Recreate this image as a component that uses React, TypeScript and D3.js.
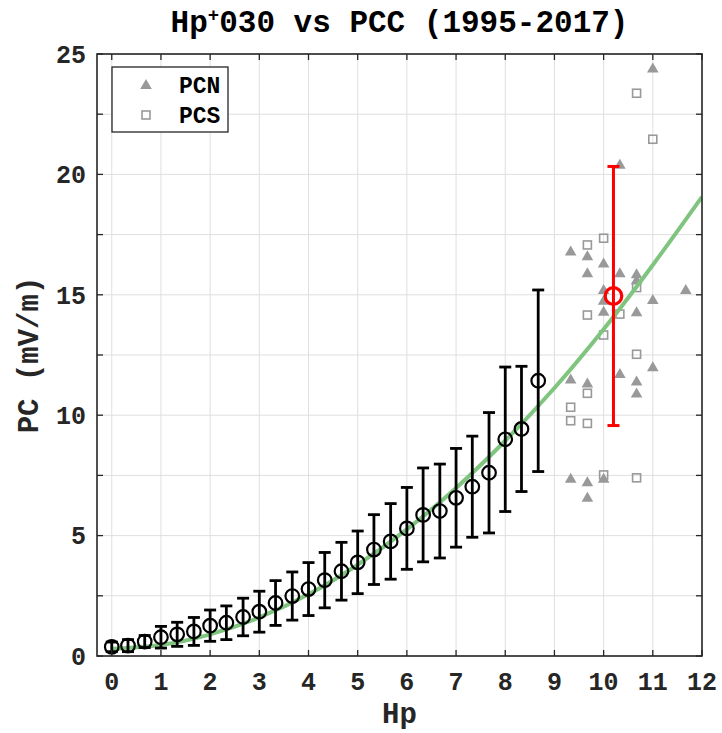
import React from "react";
import * as d3 from "d3";

// Binned means (black circles with error bars)
const binHp = [0, 0.33, 0.67, 1, 1.33, 1.67, 2, 2.33, 2.67, 3, 3.33, 3.67, 4, 4.33, 4.67, 5, 5.33, 5.67, 6, 6.33, 6.67, 7, 7.33, 7.67, 8, 8.33, 8.67];
const binPC = [0.38, 0.43, 0.6, 0.78, 0.9, 1.02, 1.26, 1.38, 1.62, 1.84, 2.2, 2.49, 2.78, 3.15, 3.52, 3.89, 4.42, 4.76, 5.3, 5.86, 6.02, 6.57, 7.03, 7.61, 9.0, 9.43, 11.43];
const binErr = [0.2, 0.25, 0.25, 0.45, 0.5, 0.58, 0.65, 0.7, 0.78, 0.85, 0.93, 1.0, 1.1, 1.15, 1.2, 1.3, 1.45, 1.57, 1.7, 1.95, 1.95, 2.05, 2.1, 2.5, 3.0, 2.6, 3.77];

// High-Hp summary point (red)
const redHp = [10.2];
const redPC = [14.95];
const redErr = [5.38];

// PCN (triangles)
const pcnHp = [11, 10.33, 9.33, 9.67, 10, 9.67, 10.33, 10.67, 10.67, 10, 11.67, 10, 11, 10, 10.67, 9.33, 9.67, 10.33, 11, 10.67, 10.67, 9.33, 9.67, 10, 9.67];
const pcnPC = [24.4, 20.4, 16.8, 16.6, 16.3, 15.9, 15.9, 15.85, 15.6, 15.2, 15.2, 14.75, 14.78, 14.3, 14.28, 11.48, 11.32, 11.71, 11.99, 11.4, 10.9, 7.36, 7.22, 7.36, 6.57];

// PCS (open squares)
const pcsHp = [10.67, 11, 10, 9.67, 10.67, 9.67, 10.33, 10, 10.67, 9.67, 9.33, 9.33, 9.67, 10, 10.67];
const pcsPC = [23.37, 21.46, 17.35, 17.07, 15.3, 14.16, 14.2, 13.33, 12.53, 10.91, 10.33, 9.77, 9.66, 7.52, 7.4];

// Fitted curve (green), read at integer Hp
const fitHp = [0, 1, 2, 3, 4, 5, 6, 7, 8, 9, 10, 11, 12];
const fitPC = [0.3, 0.46, 0.9, 1.6, 2.56, 3.79, 5.26, 6.98, 8.94, 11.13, 13.57, 16.24, 19.07];

const xTicks = [0, 1, 2, 3, 4, 5, 6, 7, 8, 9, 10, 11, 12];
const yTicks = [0, 2.5, 5, 7.5, 10, 12.5, 15, 17.5, 20, 22.5, 25];
const yLabels = [0, 5, 10, 15, 20, 25];

const FONT = "'Liberation Mono', 'DejaVu Sans Mono', monospace";
const GRAY = "#999999";

export default function App() {
  const W = 722, H = 733;
  const L = 97, R = 702, T = 54, B = 656;
  const x = d3.scaleLinear().domain([-0.3, 12]).range([L, R]);
  const y = d3.scaleLinear().domain([0, 25]).range([B, T]);
  const line = d3.line<number>().x((d, i) => x(fitHp[i])).y((d) => y(d)).curve(d3.curveNatural);
  const tk = 6;
  const cap = 6;

  return (
    <svg width={W} height={H} style={{ position: "absolute", left: 0, top: 0, background: "#fff" }} fontFamily={FONT}>
      <rect x={0} y={0} width={W} height={H} fill="#fff" />
      <defs>
        <clipPath id="plot">
          <rect x={L} y={T} width={R - L} height={B - T} />
        </clipPath>
      </defs>
      {/* grid */}
      {xTicks.map((t) => (
        <line key={"gx" + t} x1={x(t)} x2={x(t)} y1={T} y2={B} stroke="#dfdfdf" strokeWidth={1} />
      ))}
      {yTicks.map((t) => (
        <line key={"gy" + t} x1={L} x2={R} y1={y(t)} y2={y(t)} stroke="#dfdfdf" strokeWidth={1} />
      ))}

      <g clipPath="url(#plot)">
        {/* PCS squares */}
        {pcsHp.map((h, i) => (
          <rect key={"s" + i} x={x(h) - 4} y={y(pcsPC[i]) - 4} width={8} height={8} fill="none" stroke={GRAY} strokeWidth={1.6} />
        ))}
        {/* PCN triangles */}
        {pcnHp.map((h, i) => {
          const cx = x(h), cy = y(pcnPC[i]);
          return (
            <polygon key={"t" + i} points={`${cx},${cy - 6} ${cx - 5.8},${cy + 4} ${cx + 5.8},${cy + 4}`} fill={GRAY} stroke="none" />
          );
        })}
        {/* fit curve */}
        <path d={line(fitPC) || ""} fill="none" stroke="#7fc47f" strokeWidth={4} />
        {/* black error bars */}
        {binHp.map((h, i) => {
          const cx = x(h);
          const y1 = y(binPC[i] + binErr[i]);
          const y0 = y(binPC[i] - binErr[i]);
          return (
            <g key={"b" + i} stroke="#000" strokeWidth={2.8} fill="none">
              <line x1={cx} x2={cx} y1={y1} y2={y0} />
              <line x1={cx - cap} x2={cx + cap} y1={y1} y2={y1} />
              <line x1={cx - cap} x2={cx + cap} y1={y0} y2={y0} />
              <circle cx={cx} cy={y(binPC[i])} r={6.8} strokeWidth={2.2} />
            </g>
          );
        })}
        {/* red */}
        {redHp.map((h, i) => {
          const cx = x(h);
          const y1 = y(redPC[i] + redErr[i]);
          const y0 = y(redPC[i] - redErr[i]);
          return (
            <g key={"r" + i} stroke="#ff0000" strokeWidth={3} fill="none">
              <line x1={cx} x2={cx} y1={y1} y2={y0} />
              <line x1={cx - cap} x2={cx + cap} y1={y1} y2={y1} />
              <line x1={cx - cap} x2={cx + cap} y1={y0} y2={y0} />
              <circle cx={cx} cy={y(redPC[i])} r={8.3} strokeWidth={3.2} />
            </g>
          );
        })}
      </g>

      {/* axes box & ticks */}
      <rect x={L} y={T} width={R - L} height={B - T} fill="none" stroke="#262626" strokeWidth={1.6} />
      {xTicks.map((t) => (
        <g key={"xt" + t} stroke="#262626" strokeWidth={1.3}>
          <line x1={x(t)} x2={x(t)} y1={B} y2={B - tk} />
          <line x1={x(t)} x2={x(t)} y1={T} y2={T + tk} />
        </g>
      ))}
      {yTicks.map((t) => (
        <g key={"yt" + t} stroke="#262626" strokeWidth={1.3}>
          <line x1={L} x2={L + tk} y1={y(t)} y2={y(t)} />
          <line x1={R} x2={R - tk} y1={y(t)} y2={y(t)} />
        </g>
      ))}
      {xTicks.map((t) => (
        <text key={"xl" + t} x={x(t)} y={690} textAnchor="middle" fontSize={25} fontWeight="bold" fill="#262626">
          {t}
        </text>
      ))}
      {yLabels.map((t) => (
        <text key={"yl" + t} x={86} y={y(t)} dy="0.35em" textAnchor="end" fontSize={25} fontWeight="bold" fill="#262626">
          {t}
        </text>
      ))}

      {/* axis labels */}
      <text x={(L + R) / 2} y={723} textAnchor="middle" fontSize={29} fontWeight="bold" fill="#262626">Hp</text>
      <text transform={`translate(38,${(T + B) / 2}) rotate(-90)`} textAnchor="middle" fontSize={29} fontWeight="bold" fill="#262626">
        PC (mV/m)
      </text>

      {/* title */}
      <text x={(L + R) / 2} y={32} textAnchor="middle" fontSize={31} fontWeight="bold" fill="#000">
        Hp<tspan fontSize={19} dy={-11}>+</tspan><tspan dy={11}>030 vs PCC (1995-2017)</tspan>
      </text>

      {/* legend */}
      <rect x={112} y={67} width={116} height={65} fill="#fff" stroke="#262626" strokeWidth={1.3} />
      <polygon points={`146,79 140.2,89 151.8,89`} fill={GRAY} />
      <rect x={142} y={111} width={8} height={8} fill="none" stroke={GRAY} strokeWidth={1.6} />
      <text x={179} y={85} dy="0.35em" fontSize={23} fontWeight="bold" fill="#000">PCN</text>
      <text x={179} y={115} dy="0.35em" fontSize={23} fontWeight="bold" fill="#000">PCS</text>
    </svg>
  );
}
